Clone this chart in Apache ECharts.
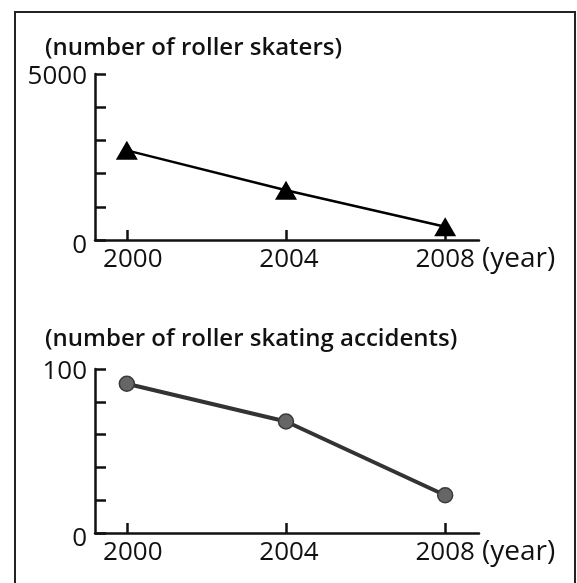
<!DOCTYPE html>
<html>
<head>
<meta charset="utf-8">
<script src="https://cdn.jsdelivr.net/npm/echarts@6/dist/echarts.min.js"></script>
<style>
html,body{margin:0;padding:0;background:#fff;}
#c{width:577px;height:583px;}
</style>
</head>
<body>
<div id="c"></div>
<script>
const years = [2000, 2004, 2008];
const skaters = [2700, 1500, 400];
const accidents = [91, 68, 23];
const skaterTicks = [0, 5000];
const accidentTicks = [0, 100];
const titleTop = '(number of roller skaters)';
const titleBottom = '(number of roller skating accidents)';
const yearUnit = '(year)';

const FONT = 'Open Sans';
const chart = echarts.init(document.getElementById('c'), null, {renderer: 'canvas'});

const yearRich = {
  a: {fontFamily: FONT, fontSize: 26, color: '#111', padding: [0, 0, 0, 12]},
  b: {fontFamily: FONT, fontSize: 26, color: '#111', padding: [0, 0, 0, 6]},
  c: {fontFamily: FONT, fontSize: 26, color: '#111'}
};
function xAxisCfg(gridIndex) {
  return {
    type: 'value', gridIndex: gridIndex,
    min: 1999.2, max: 2008.85,
    axisLine: {show: true, lineStyle: {color: '#111', width: 2.5}},
    axisTick: {show: true, inside: true, length: 10, customValues: years, lineStyle: {color: '#111', width: 2.5}},
    axisLabel: {show: true, customValues: years, margin: 7, color: '#111', fontFamily: FONT, fontSize: 26,
      formatter: v => '{' + ['a', 'b', 'c'][years.indexOf(v)] + '|' + v + '}', rich: yearRich},
    splitLine: {show: false},
    name: yearUnit, nameLocation: 'end', nameGap: 3,
    nameTextStyle: {color: '#111', fontFamily: FONT, fontSize: 28, align: 'left', verticalAlign: 'top', padding: [5, 0, 0, 0]}
  };
}
function yAxisCfg(gridIndex, max, interval, shown) {
  return {
    type: 'value', gridIndex: gridIndex, min: 0, max: max, interval: interval,
    axisLine: {show: true, lineStyle: {color: '#111', width: 2.5}},
    axisTick: {show: true, inside: true, length: 11, lineStyle: {color: '#111', width: 2.5}},
    axisLabel: {show: true, margin: 8, color: '#111', fontFamily: FONT, fontSize: 26,
      formatter: v => shown.indexOf(v) >= 0 ? (v === 0 ? '{z|' + v + '}' : '{t|' + v + '}') : '',
      rich: {
        z: {fontFamily: FONT, fontSize: 26, color: '#111', padding: [12, 0, 0, 0]},
        t: {fontFamily: FONT, fontSize: 26, color: '#111', padding: [5, 0, 0, 0]}
      }},
    splitLine: {show: false}
  };
}

chart.setOption({
  animation: false,
  backgroundColor: '#fff',
  title: [
    {text: titleTop, left: 40, top: 31, textStyle: {fontFamily: FONT, fontSize: 24, fontWeight: 600, color: '#111'}},
    {text: titleBottom, left: 40, top: 322, textStyle: {fontFamily: FONT, fontSize: 24, fontWeight: 600, color: '#111'}}
  ],
  graphic: [
    {type: 'rect', shape: {x: 15, y: 12, width: 560, height: 600}, style: {fill: 'none', stroke: '#222', lineWidth: 2}, silent: true}
  ],
  grid: [
    {left: 95, top: 74, width: 384, height: 166},
    {left: 95, top: 369, width: 384, height: 164}
  ],
  xAxis: [xAxisCfg(0), xAxisCfg(1)],
  yAxis: [yAxisCfg(0, 5000, 1000, skaterTicks), yAxisCfg(1, 100, 20, accidentTicks)],
  series: [
    {type: 'line', xAxisIndex: 0, yAxisIndex: 0,
      data: years.map((y, i) => [y, skaters[i]]),
      symbol: 'triangle', symbolSize: [22, 19],
      itemStyle: {color: '#000'}, lineStyle: {color: '#000', width: 2.5}},
    {type: 'line', xAxisIndex: 1, yAxisIndex: 1,
      data: years.map((y, i) => [y, accidents[i]]),
      symbol: 'circle', symbolSize: 15,
      itemStyle: {color: '#666', borderColor: '#3a3a3a', borderWidth: 1.5},
      lineStyle: {color: '#333', width: 4}}
  ]
});
</script>
</body>
</html>
